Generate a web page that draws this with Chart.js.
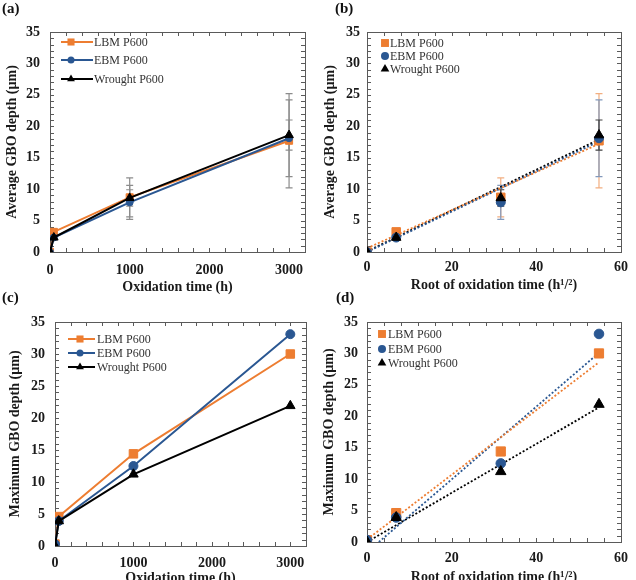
<!DOCTYPE html>
<html>
<head>
<meta charset="utf-8">
<script src="https://cdn.jsdelivr.net/npm/chart.js@4.4.0/dist/chart.umd.min.js"></script>
<style>
  html, body { margin: 0; padding: 0; background: #fff; overflow: hidden; }
  #figura { position: relative; width: 636px; height: 580px; overflow: hidden; }
  .painel { position: absolute; width: 318px; height: 300px; }
  .painel canvas { display: block; }
  .letra { position: absolute; font: bold 15px "Liberation Serif", serif; color: #111; }
</style>
</head>
<body>
<div id="figura">
  <div class="painel" style="left:0;top:0"><canvas id="graficoA" width="318" height="300"></canvas></div>
  <div class="painel" style="left:318px;top:0"><canvas id="graficoB" width="318" height="300"></canvas></div>
  <div class="painel" style="left:0;top:290px"><canvas id="graficoC" width="318" height="300"></canvas></div>
  <div class="painel" style="left:318px;top:290px"><canvas id="graficoD" width="318" height="300"></canvas></div>
  <span class="letra" style="left:2px;top:0px">(a)</span>
  <span class="letra" style="left:335px;top:0px">(b)</span>
  <span class="letra" style="left:2px;top:289px">(c)</span>
  <span class="letra" style="left:336px;top:289px">(d)</span>
</div>
<script>
// dados
const series = ['LBM P600', 'EBM P600', 'Wrought P600'];
const temposH = [0, 48, 1000, 3000];
const raizTempos = [0, 6.9, 31.6, 54.8];

const mediaLBM = [0, 3.2, 8.7, 17.7];
const mediaEBM = [0, 2.3, 7.9, 18.1];
const mediaForjado = [0, 2.3, 8.6, 18.6];
const erroLBM = [0, 0.5, 3.1, 7.5];
const erroEBM = [0, 0.3, 2.7, 6.1];
const erroForjado = [0, 0.2, 1.3, 2.4];

const maxLBM = [0.3, 4.6, 14.4, 30.0];
const maxEBM = [0.3, 3.9, 12.5, 33.1];
const maxForjado = [0, 3.9, 11.2, 21.9];

// linhas de tendencia (extremos)
const tendMediaX = [0, 54.8];
const tendMediaLBM = [0.6, 17.2];
const tendMediaEBM = [0.0, 17.6];
const tendMediaForjado = [0.1, 17.9];
const tendMaxX = [0, 54.8];
const tendMaxEBMX = [2.8, 54.8];
const tendMaxLBM = [0.4, 28.6];
const tendMaxEBM = [0, 30.1];
const tendMaxForjado = [0, 21.4];

// ticks
const rotulosTempo = [0, 1000, 2000, 3000];
const rotulosRaiz = [0, 20, 40, 60];
const rotulosY = [0, 5, 10, 15, 20, 25, 30, 35];

const laranja = '#ED7D31';
const azul = '#2A5792';
const preto = '#000000';

Chart.defaults.font.family = '"Liberation Serif", "Times New Roman", serif';
Chart.defaults.color = '#1a1a1a';

function pontos(xs, ys) {
  return xs.map((x, i) => ({ x: x, y: ys[i] }));
}

function valoresTicks(max, passo) {
  const lista = [];
  for (let v = 0; v <= max + 1e-9; v += passo) lista.push({ value: Math.round(v * 1000) / 1000 });
  return lista;
}

function desenharMarcador(g, estilo, x, y, r) {
  g.beginPath();
  if (estilo === 'rect') {
    const s = r * Math.SQRT1_2;
    g.rect(x - s, y - s, 2 * s, 2 * s);
  } else if (estilo === 'circle') {
    g.arc(x, y, r, 0, Math.PI * 2);
  } else {
    g.moveTo(x, y - r);
    g.lineTo(x + r * 0.866, y + r * 0.5);
    g.lineTo(x - r * 0.866, y + r * 0.5);
    g.closePath();
  }
  g.fill();
}

const estilos = [
  { cor: laranja, estilo: 'rect' },
  { cor: azul, estilo: 'circle' },
  { cor: preto, estilo: 'triangle' }
];

// legenda dentro da area do grafico, posicoes relativas ao canto superior esquerdo
const legendaPropria = {
  id: 'legendaPropria',
  afterDatasetsDraw(chart, args, opts) {
    if (!opts.linhas) return;
    const { ctx, chartArea: a } = chart;
    ctx.save();
    ctx.font = '12px "Liberation Serif", serif';
    ctx.textBaseline = 'middle';
    ctx.textAlign = 'left';
    series.forEach((nome, i) => {
      const y = a.top + opts.linhas[i];
      const cor = estilos[i].cor;
      if (opts.linha) {
        ctx.strokeStyle = cor;
        ctx.lineWidth = 2;
        ctx.beginPath();
        ctx.moveTo(a.left + opts.linha[0], y);
        ctx.lineTo(a.left + opts.linha[1], y);
        ctx.stroke();
      }
      ctx.fillStyle = cor;
      desenharMarcador(ctx, estilos[i].estilo, a.left + opts.marcador, y, opts.raios[i]);
      ctx.fillStyle = '#333';
      ctx.fillText(nome, a.left + opts.texto, y + 0.5);
    });
    ctx.restore();
  }
};

// tamanhos dos eixos fixados em afterFit
function eixos(cfg) {
  return {
    x: {
      type: 'linear', min: 0, max: cfg.xMax,
      afterBuildTicks: s => { s.ticks = valoresTicks(cfg.xMax, cfg.xPasso); },
      afterFit: s => { s.height = cfg.xAltura; },
      grid: { display: false, drawTicks: false },
      border: { display: false },
      ticks: {
        autoSkip: false, maxRotation: 0, padding: cfg.xPad,
        font: { size: 14, weight: 'bold' },
        callback: v => cfg.xRotulos.includes(v) ? String(v) : ''
      },
      title: { display: true, text: cfg.xTitulo, font: { size: 14, weight: 'bold' }, padding: { top: 0, bottom: cfg.xTitPad } }
    },
    y: {
      type: 'linear', min: 0, max: 35,
      afterBuildTicks: s => { s.ticks = valoresTicks(35, 1); },
      afterFit: s => { s.width = cfg.yLargura; },
      grid: { display: false, drawTicks: false },
      border: { display: false },
      ticks: {
        autoSkip: false, padding: cfg.yPad,
        font: { size: 14, weight: 'bold' },
        callback: v => rotulosY.includes(v) ? String(v) : ''
      },
      title: { display: true, text: cfg.yTitulo, font: { size: 14, weight: 'bold' }, padding: { top: cfg.yTitPad, bottom: 0 } }
    }
  };
}

// moldura com ticks para dentro nos quatro lados
const moldura = {
  id: 'moldura',
  beforeDatasetsDraw(chart) {
    const { ctx, chartArea: a, scales: { x, y } } = chart;
    ctx.save();
    ctx.strokeStyle = '#5a5a5a';
    ctx.lineWidth = 1;
    ctx.beginPath();
    x.ticks.forEach(t => {
      const px = Math.round(x.getPixelForValue(t.value)) + 0.5;
      ctx.moveTo(px, a.bottom); ctx.lineTo(px, a.bottom - 4);
      ctx.moveTo(px, a.top); ctx.lineTo(px, a.top + 4);
    });
    y.ticks.forEach(t => {
      const py = Math.round(y.getPixelForValue(t.value)) + 0.5;
      ctx.moveTo(a.left, py); ctx.lineTo(a.left + 4, py);
      ctx.moveTo(a.right, py); ctx.lineTo(a.right - 4, py);
    });
    ctx.stroke();
    ctx.strokeRect(Math.round(a.left) + 0.5, Math.round(a.top) + 0.5, Math.round(a.width), Math.round(a.height));
    ctx.restore();
  }
};

// barras de erro a partir das escalas
const barrasErro = {
  id: 'barrasErro',
  beforeDatasetsDraw(chart) {
    const { ctx, scales: { x, y } } = chart;
    chart.data.datasets.forEach(ds => {
      if (!ds.erros) return;
      ctx.save();
      ctx.strokeStyle = ds.corErro;
      ctx.lineWidth = 1.2;
      ds.data.forEach((p, i) => {
        const e = ds.erros[i];
        if (!e) return;
        const px = x.getPixelForValue(p.x);
        const yt = y.getPixelForValue(p.y + e);
        const yb = y.getPixelForValue(p.y - e);
        ctx.beginPath();
        ctx.moveTo(px, yt); ctx.lineTo(px, yb);
        ctx.moveTo(px - 3.5, yt); ctx.lineTo(px + 3.5, yt);
        ctx.moveTo(px - 3.5, yb); ctx.lineTo(px + 3.5, yb);
        ctx.stroke();
      });
      ctx.restore();
    });
  }
};

function serieLinha(nome, xs, ys, i, raio, erros, corErro, ordem) {
  return {
    label: nome,
    data: pontos(xs, ys),
    borderColor: estilos[i].cor,
    backgroundColor: estilos[i].cor,
    borderWidth: 2,
    pointStyle: estilos[i].estilo,
    pointRadius: raio,
    pointBorderWidth: 1,
    erros: erros,
    corErro: corErro,
    order: ordem
  };
}

function serieTendencia(xs, ys, i) {
  return {
    label: 'tendencia',
    data: pontos(xs, ys),
    showLine: true,
    borderColor: estilos[i].cor,
    borderWidth: 1.8,
    borderDash: [2, 2],
    pointRadius: 0,
    order: 5
  };
}

function criarGrafico(id, tipo, datasets, esc, leg, direita) {
  return new Chart(document.getElementById(id), {
    type: tipo,
    data: { datasets: datasets },
    options: {
      responsive: false,
      animation: false,
      events: [],
      layout: { padding: { left: 0, right: direita, top: 32, bottom: 0 } },
      scales: eixos(esc),
      plugins: {
        legend: { display: false },
        tooltip: { enabled: false },
        legendaPropria: leg
      }
    },
    plugins: [moldura, barrasErro, legendaPropria]
  });
}

const cinza = '#8c8c8c';

// (a)
criarGrafico('graficoA', 'line', [
  serieLinha(series[0], temposH, mediaLBM, 0, 5, erroLBM, cinza, 2),
  serieLinha(series[1], temposH, mediaEBM, 1, 3.5, erroEBM, cinza, 1),
  serieLinha(series[2], temposH, mediaForjado, 2, 5, erroForjado, cinza, 0)
], {
  xMax: 3200, xPasso: 200, xRotulos: rotulosTempo, xAltura: 48, xPad: 9.6, xTitPad: 4.6, xTitulo: 'Oxidation time (h)',
  yLargura: 50, yPad: 10, yTitPad: 3.6, yTitulo: 'Average GBO depth (µm)'
}, {
  linhas: [10, 28, 47], linha: [11, 43], marcador: 21, texto: 44, raios: [5, 3.5, 4.5]
}, 13);

// (b)
criarGrafico('graficoB', 'scatter', [
  Object.assign(serieLinha(series[0], raizTempos, mediaLBM, 0, 6, erroLBM, '#F2AE80', 2), { showLine: false }),
  Object.assign(serieLinha(series[1], raizTempos, mediaEBM, 1, 4.5, erroEBM, '#8299BC', 1), { showLine: false }),
  Object.assign(serieLinha(series[2], raizTempos, mediaForjado, 2, 5.5, erroForjado, '#404040', 0), { showLine: false }),
  serieTendencia(tendMediaX, tendMediaLBM, 0),
  serieTendencia(tendMediaX, tendMediaEBM, 1),
  serieTendencia(tendMediaX, tendMediaForjado, 2)
], {
  xMax: 60, xPasso: 4, xRotulos: rotulosRaiz, xAltura: 48, xPad: 6.6, xTitPad: 6.6, xTitulo: 'Root of oxidation time (h¹/²)',
  yLargura: 49, yPad: 7, yTitPad: 3.6, yTitulo: 'Average GBO depth (µm)'
}, {
  linhas: [11, 24, 37], linha: null, marcador: 18, texto: 23, raios: [5.6, 4, 5]
}, 15);

// (c)
criarGrafico('graficoC', 'line', [
  serieLinha(series[0], temposH, maxLBM, 0, 6, null, null, 2),
  serieLinha(series[1], temposH, maxEBM, 1, 4.5, null, null, 1),
  serieLinha(series[2], temposH, maxForjado, 2, 5.5, null, null, 0)
], {
  xMax: 3200, xPasso: 200, xRotulos: rotulosTempo, xAltura: 44, xPad: 8.6, xTitPad: 3.6, xTitulo: 'Oxidation time (h)',
  yLargura: 55, yPad: 10, yTitPad: 6.6, yTitulo: 'Maximum GBO depth (µm)'
}, {
  linhas: [17, 31, 45], linha: [13, 40], marcador: 25, texto: 42, raios: [5, 3.5, 4.5]
}, 12);

// (d)
criarGrafico('graficoD', 'scatter', [
  Object.assign(serieLinha(series[0], raizTempos, maxLBM, 0, 6.5, null, null, 2), { showLine: false }),
  Object.assign(serieLinha(series[1], raizTempos, maxEBM, 1, 4.8, null, null, 1), { showLine: false }),
  Object.assign(serieLinha(series[2], raizTempos, maxForjado, 2, 6, null, null, 0), { showLine: false }),
  serieTendencia(tendMaxX, tendMaxLBM, 0),
  serieTendencia(tendMaxEBMX, tendMaxEBM, 1),
  serieTendencia(tendMaxX, tendMaxForjado, 2)
], {
  xMax: 60, xPasso: 4, xRotulos: rotulosRaiz, xAltura: 48, xPad: 7.6, xTitPad: 4.6, xTitulo: 'Root of oxidation time (h¹/²)',
  yLargura: 49, yPad: 9, yTitPad: 2.6, yTitulo: 'Maximum GBO depth (µm)'
}, {
  linhas: [12, 27, 41], linha: null, marcador: 15, texto: 21, raios: [5.6, 4, 5]
}, 15);
</script>
</body>
</html>
